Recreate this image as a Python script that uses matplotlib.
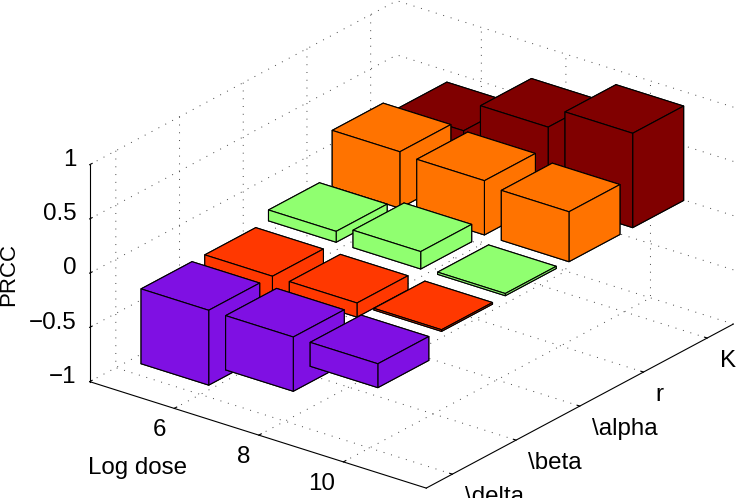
import matplotlib
matplotlib.use("Agg")
import matplotlib.pyplot as plt

plt.rcParams['font.family'] = ['Liberation Sans', 'DejaVu Sans']

dose_pos = [1, 2, 3]
dose_labels = ['6', '8', '10']
param_labels = ['\\delta', '\\beta', '\\alpha', 'r', 'K']
prcc_ticks = [-1, -0.5, 0, 0.5, 1]
prcc_labels = ['\u22121', '\u22120.5', '0', '0.5', '1']

# one list per parameter, order 6, 8, 10
delta_vals = [-0.69, -0.50, -0.22]
beta_vals = [-0.30, -0.13, -0.015]
alpha_vals = [0.10, 0.16, 0.02]
r_vals = [0.52, 0.50, 0.46]
k_vals = [0.40, 0.68, 0.87]
rows = [delta_vals, beta_vals, alpha_vals, r_vals, k_vals]
colors = ['#7F10E3', '#FF3800', '#90FF70', '#FF7300', '#800000']

W, H = 738, 498
S = 800.0  # lado del cuadrado de los ejes en pixeles
cx, cy = 411.5, 253.6  # centro de la caja en pixeles
FS = 17.4

fig = plt.figure(figsize=(W / 100, H / 100), dpi=100)
fig.patch.set_facecolor('white')
ax = fig.add_axes([(cx - 0.5135 * S) / W, (cy - 0.5135 * S) / H, S / W, S / H],
                  projection='3d', proj_type='ortho')
ax.computed_zorder = False
ax.patch.set_alpha(0)
ax.view_init(elev=24.27, azim=-52.42)
ax.set_box_aspect((424.7, 503.6, 238.0), zoom=679.9 / S)
ax.set_xlim(0.0, 3.98, view_margin=0)
ax.set_ylim(0.59, 5.41, view_margin=0)
ax.set_zlim(-1, 1, view_margin=0)

# de atras hacia adelante
zo = 10
for j in range(4, -1, -1):
    for i in range(3):
        ax.bar3d(dose_pos[i] - 0.4, j + 1 - 0.4, 0, 0.8, 0.8, rows[j][i],
                 color=colors[j], edgecolor='k', linewidth=0.8, shade=False,
                 zorder=zo)
        zo += 1

ax.set_xticks(dose_pos)
ax.set_xticklabels(dose_labels, fontsize=FS, ha='right')
ax.set_yticks(range(1, 6))
ax.set_yticklabels(param_labels, fontsize=FS, ha='left')
ax.set_zticks(prcc_ticks)
ax.set_zticklabels(prcc_labels, fontsize=FS, ha='right', va='baseline')
ax.zaxis.set_ticks_position('lower')

for axis in (ax.xaxis, ax.yaxis, ax.zaxis):
    axis.set_pane_color((1, 1, 1, 0))
    axis.pane.set_edgecolor('none')
    axis._axinfo['grid'].update(color='#444444', linewidth=0.7, linestyle=(0, (1, 7)))
    axis._axinfo['tick'].update(inward_factor=0.0, outward_factor=0.1)
    axis._axinfo['axisline']['color'] = '#222222'
    axis.line.set_linewidth(0.8)
ax.tick_params(axis='x', pad=0.4)
ax.tick_params(axis='y', pad=3)
ax.tick_params(axis='z', pad=-2)

fig.text(137 / W, 1 - 468 / H, 'Log dose', fontsize=FS, ha='center', va='center')
fig.text(9 / W, 1 - 274 / H, 'PRCC', fontsize=16, rotation=90, ha='center', va='center')

fig.savefig('out.png', dpi=100)
